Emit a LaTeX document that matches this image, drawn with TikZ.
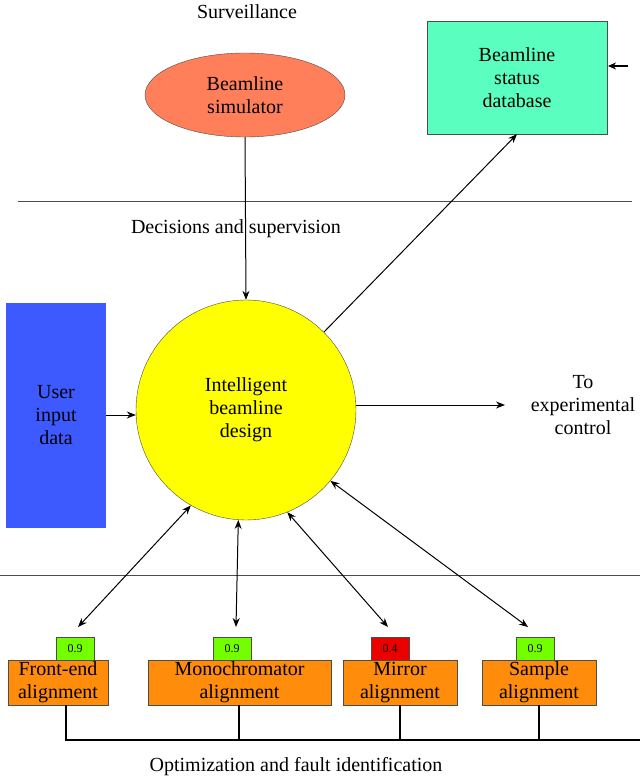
\documentclass[tikz,border=0pt]{standalone}
\usepackage{fontspec}
\usetikzlibrary{shapes.geometric,arrows.meta}
\setmainfont{Liberation Serif}
\begin{document}
\begin{tikzpicture}[x=1pt,y=-1pt,
  txt/.style={font=\fontsize{20}{23}\selectfont,align=center},
  box/.style={draw=black!70,txt,inner sep=0pt},
  val/.style={draw=black!70,font=\fontsize{12}{14}\selectfont,minimum width=38pt,minimum height=23pt,inner sep=0pt},
  arr/.style={line width=1pt,-{Stealth[length=9pt,width=7pt]}},
  darr/.style={line width=1pt,{Stealth[length=9pt,width=7pt]}-{Stealth[length=9pt,width=7pt]}}]
\useasboundingbox (0,0) rectangle (640,778);
\draw[black!70] (18,201) -- (632,201);
\draw[black!70] (0,575) -- (640,575);
\node[txt] (surv) at (247,12) {Surveillance};
\node[txt] (dec) at (236,229) {Decisions and supervision};
\node[box,ellipse,fill={rgb,255:red,255;green,127;blue,90},minimum width=200pt,minimum height=84pt] (sim) at (245,95) {Beamline\\simulator};
\node[box,fill={rgb,255:red,90;green,255;blue,192},minimum width=180pt,minimum height=113pt] (db) at (517,77.5) {Beamline\\status\\database};
\coordinate (dbin) at (628,66);
\draw[line width=2pt,-{Stealth[length=8pt,width=7pt]}] (dbin) -- (608,66);
\node[box,circle,fill={rgb,255:red,255;green,255;blue,0},minimum size=220pt] (idb) at (246,410) {Intelligent\\beamline\\design};
\node[fill={rgb,255:red,60;green,90;blue,255},minimum width=100pt,minimum height=225pt,txt,inner sep=0pt] (user) at (56,415.5) {User\\input\\data};
\node[txt] (exp) at (583,405) {To\\experimental\\control};
\draw[arr] (sim.south) -- (idb.north);
\draw[arr] (idb.45) -- (db.south);
\draw[arr] (user.east |- 0,415) -- (idb.west |- 0,415);
\draw[arr] (idb.east |- 0,405) -- (505,405);
\foreach \n/\x/\w/\c/\v/\lbl in {fe/58/100/75/0.9/Front-end\\alignment, mo/239.5/183/232/0.9/Monochromator\\alignment, mi/400/114/390/0.4/Mirror\\alignment, sa/539/114/535/0.9/Sample\\alignment}{
  \node[box,fill={rgb,255:red,255;green,140;blue,10},minimum width=\w pt,minimum height=45pt] (\n) at (\x,682.5) {\lbl};
  \node[val,fill=green!55!yellow] (v\n) at (\c,648.5) {\v};
}
\node[val,fill={rgb,255:red,235;green,0;blue,0}] at (390,648.5) {0.4};
\draw[darr] (idb.240) -- (78,627);
\draw[darr] (idb.266) -- (236,627);
\draw[darr] (idb.292) -- (388,627);
\draw[darr] (idb.320) -- (528,627);
\coordinate (busend) at (640,740);
\draw[line width=2.5pt] (66,705) -- (66,740) -- (busend);
\foreach \x in {239,400,539} \draw[line width=2pt] (\x,705) -- (\x,740);
\node[txt] (opt) at (296,767) {Optimization and fault identification};
\end{tikzpicture}
\end{document}
